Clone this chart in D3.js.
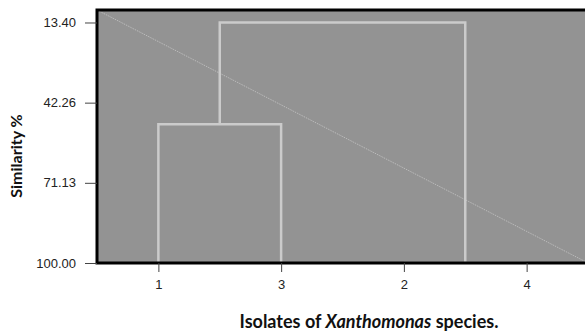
<!DOCTYPE html>
<html>
<head>
<meta charset="utf-8">
<script src="https://cdn.jsdelivr.net/npm/d3@7"></script>
<style>
  body { margin: 0; background: #fff; }
  svg { display: block; }
  .tick text { font-family: "Liberation Sans", Arial, sans-serif; font-size: 13px; fill: #222; }
  .axis-title { font-family: Lato, "Open Sans", sans-serif; font-weight: bold; fill: #111; }
</style>
</head>
<body>
<svg width="585" height="334"></svg>
<script>
var svg = d3.select('svg');

// Leaf order along the bottom axis
var leaves = ['1', '3', '2', '4'];
// Similarity tick values on the left axis
var yTicks = [13.40, 42.26, 71.13, 100.00];
// Merge steps: two children and the similarity level where they join
var mergeNames = ['A', 'B', 'root'];
var mergeChildren = [['1', '3'], ['2', '4'], ['A', 'B']];
var mergeLevels = [50.0, 100.0, 13.40];

// Plot frame
var plot = {l: 97, t: 10, r: 588, b: 263};

var xScale = d3.scalePoint()
    .domain(leaves)
    .range([plot.l, plot.r])
    .padding(0.5);

var yScale = d3.scaleLinear()
    .domain([8.9, 100])
    .range([plot.t, plot.b]);

// Background
svg.append('rect')
    .attr('x', plot.l)
    .attr('y', plot.t)
    .attr('width', plot.r - plot.l)
    .attr('height', plot.b - plot.t)
    .attr('fill', '#939393');

// Faint diagonal across the plot
svg.append('line')
    .attr('x1', plot.l).attr('y1', plot.t)
    .attr('x2', plot.r).attr('y2', plot.b)
    .attr('stroke', '#c4c4c4')
    .attr('stroke-width', 0.8)
    .attr('stroke-dasharray', '1.5,1');

// Position of each node (leaves start at 100 % similarity)
var pos = {};
leaves.forEach(function(name) {
    pos[name] = {x: xScale(name), y: yScale(100)};
});

var links = [];
mergeNames.forEach(function(name, i) {
    var a = pos[mergeChildren[i][0]];
    var b = pos[mergeChildren[i][1]];
    var yy = yScale(mergeLevels[i]);
    pos[name] = {x: (a.x + b.x) / 2, y: yy};
    links.push([[a.x, a.y], [a.x, yy], [b.x, yy], [b.x, b.y]]);
});

svg.selectAll('.link')
    .data(links)
    .enter()
    .append('path')
    .attr('class', 'link')
    .attr('d', d3.line())
    .attr('fill', 'none')
    .attr('stroke', '#cbcbcb')
    .attr('stroke-width', 2.5);

// Frame border
svg.append('rect')
    .attr('x', plot.l)
    .attr('y', plot.t)
    .attr('width', plot.r - plot.l)
    .attr('height', plot.b - plot.t)
    .attr('fill', 'none')
    .attr('stroke', '#000')
    .attr('stroke-width', 3);

// Axes
var yAxis = d3.axisLeft(yScale)
    .tickValues(yTicks)
    .tickFormat(d3.format('.2f'))
    .tickSize(12)
    .tickPadding(9);

svg.append('g')
    .attr('transform', 'translate(' + plot.l + ',0)')
    .call(yAxis)
    .call(function(g) {
        g.select('.domain').remove();
        g.selectAll('.tick line').attr('stroke', '#444');
    });

var xAxis = d3.axisBottom(xScale)
    .tickSize(9)
    .tickPadding(8);

svg.append('g')
    .attr('transform', 'translate(0,' + plot.b + ')')
    .call(xAxis)
    .call(function(g) {
        g.select('.domain').remove();
        g.selectAll('.tick line').attr('stroke', '#444');
    });

// Axis titles
svg.append('text')
    .attr('class', 'axis-title')
    .attr('transform', 'translate(22,156)rotate(-90)')
    .attr('text-anchor', 'middle')
    .style('font-size', '16px')
    .text('Similarity %');

var xt = svg.append('text')
    .attr('class', 'axis-title')
    .attr('x', 369)
    .attr('y', 328)
    .attr('text-anchor', 'middle')
    .style('font-size', '18px');
xt.append('tspan').text('Isolates of ');
xt.append('tspan').style('font-style', 'italic').text('Xanthomonas');
xt.append('tspan').text(' species.');
</script>
</body>
</html>
